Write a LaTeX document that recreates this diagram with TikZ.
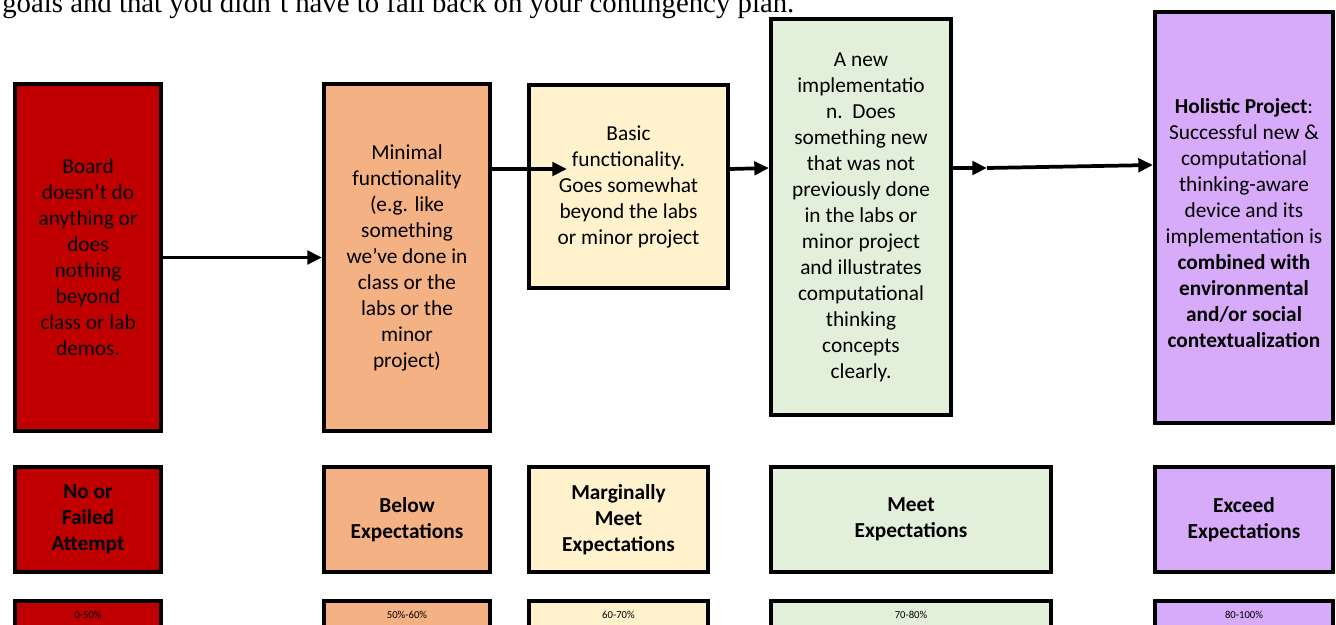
\documentclass[tikz,border=0pt]{standalone}
\usepackage{fontspec}
\setmainfont{Carlito}
\newfontfamily\timesfont{Liberation Serif}
\usetikzlibrary{arrows.meta}
\definecolor{failred}{HTML}{C00000}
\definecolor{belowor}{HTML}{F4B183}
\definecolor{margyel}{HTML}{FFF2CC}
\definecolor{meetgrn}{HTML}{E2EFDA}
\definecolor{exceedpu}{HTML}{D8AAFA}
\begin{document}
\begin{tikzpicture}[x=0.75pt,y=-0.75pt,
    box/.style={draw,line width=3pt,inner sep=0pt,align=center,
        font=\fontsize{16pt}{19.5pt}\selectfont},
    pctbox/.style={draw,line width=3pt,inner sep=0pt,anchor=north,
        minimum height=21pt,font=\fontsize{8pt}{9pt}\selectfont},
    link/.style={line width=2.8pt,-{Triangle[length=11pt,width=10pt]}}]
    \useasboundingbox (0,0) rectangle (1336,625);
    % cut-off line of the surrounding page
    \node[anchor=base west,inner sep=0pt,font=\timesfont\fontsize{21.6pt}{26pt}\selectfont] at (2,12) (goal) {goals and that you didn’t have to fall back on your contingency plan.};
    % descriptions
    \node[box,fill=failred,minimum width=109.5pt,minimum height=260.25pt] at (88,257.5) (t1) {Board\\doesn’t do\\anything or\\does\\nothing\\beyond\\class or lab\\demos.};
    \node[box,fill=belowor,minimum width=124.5pt,minimum height=260.25pt] at (407,257.5) (t2) {Minimal\\functionality\\(e.g. like\\something\\we’ve done in\\class or the\\labs or the\\minor\\project)};
    \node[box,fill=margyel,minimum width=149.25pt,minimum height=152.25pt] at (628.5,186.5) (t3) {Basic\\functionality.\\Goes somewhat\\beyond the labs\\or minor project};
    \node[box,fill=meetgrn,minimum width=135pt,minimum height=297pt] at (861,217) (t4) {A new\\implementatio\\n.\ \ Does\\something new\\that was not\\previously done\\in the labs or\\minor project\\and illustrates\\computational\\thinking\\concepts\\clearly.};
    \node[box,fill=exceedpu,minimum width=133.5pt,minimum height=308.25pt] at (1244,217.5) (t5) {\mbox{}\\\textbf{Holistic Project}:\\Successful new \&\\computational\\thinking-aware\\device and its\\implementation is\\\textbf{combined with}\\\textbf{environmental}\\\textbf{and/or social}\\\textbf{contextualization}};
    % grades
    \node[box,fill=failred,minimum width=109.5pt,minimum height=78.75pt,font=\fontsize{16pt}{19.5pt}\selectfont\bfseries] at (88,519.5) (m1) {No or\\Failed\\Attempt};
    \node[box,fill=belowor,minimum width=124.5pt,minimum height=78.75pt,font=\fontsize{16pt}{19.5pt}\selectfont\bfseries] at (407,519.5) (m2) {Below\\Expectations};
    \node[box,fill=margyel,minimum width=134.25pt,minimum height=78.75pt,font=\fontsize{16pt}{19.5pt}\selectfont\bfseries] at (618.5,519.5) (m3) {Marginally\\Meet\\Expectations};
    \node[box,fill=meetgrn,minimum width=210pt,minimum height=78.75pt,font=\fontsize{16pt}{19.5pt}\selectfont\bfseries] at (911,519.5) (m4) {Meet\\Expectations};
    \node[box,fill=exceedpu,minimum width=133.5pt,minimum height=78.75pt,font=\fontsize{16pt}{19.5pt}\selectfont\bfseries] at (1244,519.5) (m5) {Exceed\\Expectations};
    % percentages
    \node[pctbox,fill=failred,minimum width=109.5pt] at (88,599) (p1) {0-50\%};
    \node[pctbox,fill=belowor,minimum width=124.5pt] at (407,599) (p2) {50\%-60\%};
    \node[pctbox,fill=margyel,minimum width=134.25pt] at (618.5,599) (p3) {60-70\%};
    \node[pctbox,fill=meetgrn,minimum width=210pt] at (911,599) (p4) {70-80\%};
    \node[pctbox,fill=exceedpu,minimum width=133.5pt] at (1244,599) (p5) {80-100\%};
    % arrows
    \coordinate (tip3) at (567,169);
    \coordinate (mid) at (987,168);
    \draw[link] (t1) -- (t2);
    \draw[link] (t2.east |- 0,169) -- (tip3);
    \draw[link] (t3.east |- 0,169) -- (t4.west |- 0,168);
    \draw[link] (t4.east |- 0,168) -- (mid);
    \draw[link] (mid) -- (t5.west |- 0,165);
\end{tikzpicture}
\end{document}
